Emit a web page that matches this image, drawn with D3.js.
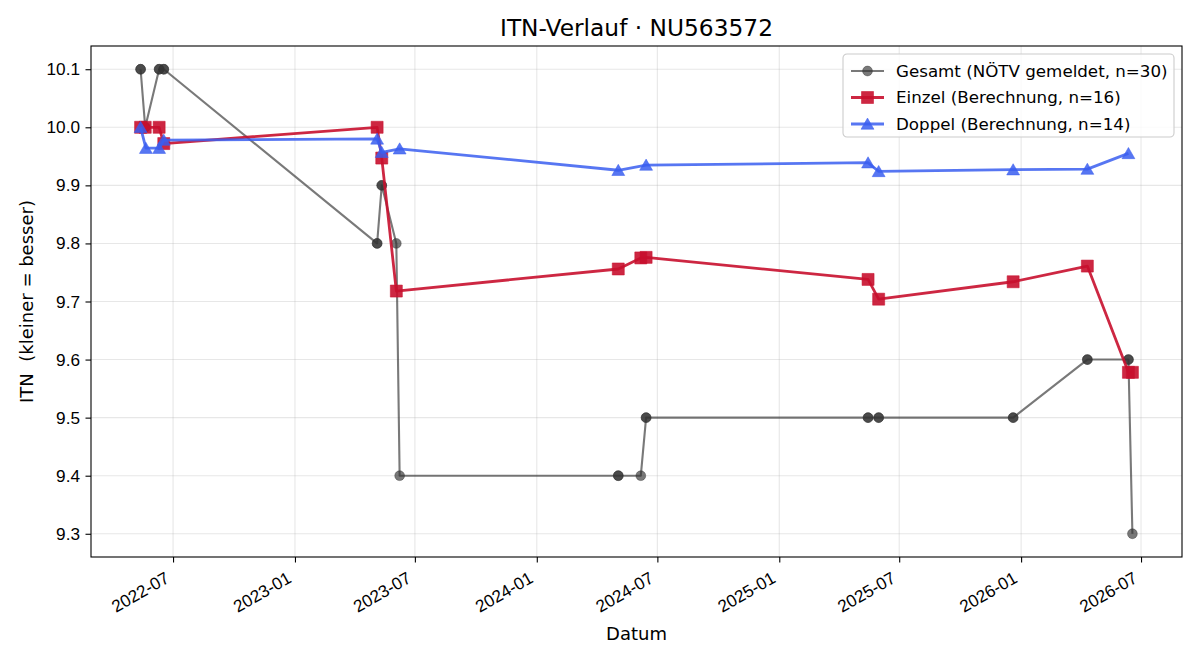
<!DOCTYPE html>
<html>
<head>
<meta charset="utf-8">
<script src="https://cdn.jsdelivr.net/npm/d3@7"></script>
<style>
  body { margin: 0; background: #fff; }
  svg { display: block; font-family: "DejaVu Sans", sans-serif; }
</style>
</head>
<body>
<svg width="1200" height="660"></svg>
<script>
// Gesamt (NÖTV gemeldet) – same-day duplicates kept, they overlap in the plot
var gesamtDates = ["2022-05-13","2022-05-13","2022-05-20","2022-05-20","2022-06-10","2022-06-10",
  "2022-06-17","2022-06-17","2023-05-05","2023-05-05","2023-05-12","2023-05-12","2023-06-03",
  "2023-06-08","2024-05-03","2024-05-03","2024-06-06","2024-06-14","2024-06-14","2025-05-15",
  "2025-05-15","2025-05-31","2025-05-31","2025-12-20","2025-12-20","2026-04-11","2026-04-11",
  "2026-06-12","2026-06-12","2026-06-18"];
var gesamtValues = [10.1,10.1,10.0,10.0,10.1,10.1,10.1,10.1,9.8,9.8,9.9,9.9,9.8,9.4,9.4,9.4,9.4,
  9.5,9.5,9.5,9.5,9.5,9.5,9.5,9.5,9.6,9.6,9.6,9.6,9.3];

var einzelDates = ["2022-05-13","2022-05-20","2022-06-10","2022-06-17","2023-05-05","2023-05-12",
  "2023-06-03","2024-05-03","2024-06-06","2024-06-14","2025-05-15","2025-05-31","2025-12-20",
  "2026-04-11","2026-06-12","2026-06-18"];
var einzelValues = [10.0,10.0,10.0,9.972,10.0,9.947,9.718,9.756,9.775,9.776,9.738,9.704,9.734,
  9.761,9.578,9.578];

var doppelDates = ["2022-05-13","2022-05-21","2022-06-10","2022-06-17","2023-05-05","2023-05-12",
  "2023-06-08","2024-05-03","2024-06-14","2025-05-15","2025-05-31","2025-12-20","2026-04-11",
  "2026-06-12"];
var doppelValues = [10.0,9.964,9.964,9.978,9.980,9.957,9.963,9.926,9.935,9.939,9.924,9.927,
  9.928,9.955];

var yTicks = [9.3,9.4,9.5,9.6,9.7,9.8,9.9,10.0,10.1];

var parse = d3.utcParse("%Y-%m-%d");
function rows(dates, values) {
  return dates.map(function(d, i) { return {date: parse(d), value: values[i]}; });
}

var series = [
  {name: "Gesamt (NÖTV gemeldet, n=30)", data: rows(gesamtDates, gesamtValues),
   color: "#333333", opacity: 0.66, lw: 2.1, marker: "circle"},
  {name: "Einzel (Berechnung, n=16)", data: rows(einzelDates, einzelValues),
   color: "#c8102e", opacity: 0.9, lw: 2.8, marker: "square"},
  {name: "Doppel (Berechnung, n=14)", data: rows(doppelDates, doppelValues),
   color: "#3a5ef0", opacity: 0.85, lw: 2.8, marker: "triangle"}
];

var margin = {top: 46, right: 18, bottom: 103, left: 91};
var width = 1200 - margin.left - margin.right;
var height = 660 - margin.top - margin.bottom;

var svg = d3.select("svg");
var g = svg.append("g")
    .attr("transform", "translate(" + margin.left + "," + margin.top + ")");

var allRows = series[0].data.concat(series[1].data, series[2].data);
var xExt = d3.extent(allRows, function(d) { return +d.date; });
var yExt = d3.extent(allRows, function(d) { return d.value; });
var xPad = (xExt[1] - xExt[0]) * 0.05;
var yPad = (yExt[1] - yExt[0]) * 0.05;

var x = d3.scaleUtc()
    .domain([new Date(xExt[0] - xPad), new Date(xExt[1] + xPad)])
    .range([0, width]);
var y = d3.scaleLinear()
    .domain([yExt[0] - yPad, yExt[1] + yPad])
    .range([height, 0]);

var xTicks = x.ticks(d3.utcMonth.every(6));

// grid
g.append("g").selectAll("line").data(xTicks).enter().append("line")
    .attr("x1", function(d) { return x(d); }).attr("x2", function(d) { return x(d); })
    .attr("y1", 0).attr("y2", height)
    .attr("stroke", "#b0b0b0").attr("stroke-opacity", 0.3).attr("stroke-width", 1.1);
g.append("g").selectAll("line").data(yTicks).enter().append("line")
    .attr("x1", 0).attr("x2", width)
    .attr("y1", function(d) { return y(d); }).attr("y2", function(d) { return y(d); })
    .attr("stroke", "#b0b0b0").attr("stroke-opacity", 0.3).attr("stroke-width", 1.1);

// axes
var xAxis = g.append("g")
    .attr("transform", "translate(0," + height + ")")
    .call(d3.axisBottom(x).tickValues(xTicks).tickFormat(d3.utcFormat("%Y-%m"))
      .tickSize(5.5).tickPadding(0));
xAxis.select(".domain").remove();
xAxis.selectAll(".tick line").attr("stroke", "#000").attr("stroke-width", 1.1);
xAxis.selectAll(".tick text")
    .attr("font-size", "17.2px").attr("fill", "#000")
    .attr("text-anchor", "end")
    .attr("dy", null)
    .attr("y", 0)
    .attr("transform", "translate(-3,24.5) rotate(-30)");

var yAxis = g.append("g")
    .call(d3.axisLeft(y).tickValues(yTicks).tickFormat(d3.format(".1f"))
      .tickSize(5.5).tickPadding(5.5));
yAxis.select(".domain").remove();
yAxis.selectAll(".tick line").attr("stroke", "#000").attr("stroke-width", 1.1);
yAxis.selectAll(".tick text").attr("font-size", "17.2px").attr("fill", "#000");

// series
var line = d3.line()
    .x(function(d) { return x(d.date); })
    .y(function(d) { return y(d.value); });

var symbolFor = {
  circle: d3.symbol().type(d3.symbolCircle).size(Math.PI * 24),
  square: d3.symbol().type(d3.symbolSquare).size(144),
  triangle: d3.symbol().type(d3.symbolTriangle).size(72)
};

function drawMarker(sel, s) {
  sel.append("path")
      .attr("d", symbolFor[s.marker]())
      .attr("fill", s.color)
      .attr("fill-opacity", s.opacity)
      .attr("stroke", s.color)
      .attr("stroke-opacity", s.opacity * 0.6)
      .attr("stroke-width", 1);
}

series.forEach(function(s) {
  var sg = g.append("g");
  sg.append("path")
      .datum(s.data)
      .attr("d", line)
      .attr("fill", "none")
      .attr("stroke", s.color)
      .attr("stroke-opacity", s.opacity)
      .attr("stroke-width", s.lw)
      .attr("stroke-linejoin", "round");
  s.data.forEach(function(d) {
    var m = sg.append("g")
        .attr("transform", "translate(" + x(d.date) + "," + y(d.value) + ")" +
          (s.marker === "triangle" ? " translate(0,1.5)" : ""));
    drawMarker(m, s);
  });
});

// frame
g.append("rect")
    .attr("width", width).attr("height", height)
    .attr("fill", "none").attr("stroke", "#000").attr("stroke-width", 1.1);

// labels
svg.append("text")
    .attr("x", margin.left + width / 2).attr("y", 36)
    .attr("text-anchor", "middle").attr("font-size", "23.3px")
    .text("ITN-Verlauf · NU563572");

svg.append("text")
    .attr("x", margin.left + width / 2).attr("y", 640)
    .attr("text-anchor", "middle").attr("font-size", "18px")
    .text("Datum");

svg.append("text")
    .attr("transform", "translate(33," + (margin.top + height / 2) + ") rotate(-90)")
    .attr("text-anchor", "middle").attr("font-size", "18px")
    .style("white-space", "pre")
    .text("ITN  (kleiner = besser)");

// legend
var legend = svg.append("g").attr("transform", "translate(843,54)");
legend.append("rect")
    .attr("width", 331).attr("height", 83).attr("rx", 4)
    .attr("fill", "#fff").attr("fill-opacity", 0.8)
    .attr("stroke", "#cccccc").attr("stroke-width", 1.1);

series.forEach(function(s, i) {
  var row = legend.append("g").attr("transform", "translate(0," + (17 + i * 26.5) + ")");
  row.append("line")
      .attr("x1", 8).attr("x2", 41).attr("y1", 0).attr("y2", 0)
      .attr("stroke", s.color).attr("stroke-opacity", s.opacity).attr("stroke-width", s.lw);
  var m = row.append("g").attr("transform", "translate(24.5," + (s.marker === "triangle" ? 1.5 : 0) + ")");
  drawMarker(m, s);
  row.append("text")
      .attr("x", 53).attr("y", 0).attr("dy", "0.35em")
      .attr("font-size", "16.7px")
      .text(s.name);
});
</script>
</body>
</html>
